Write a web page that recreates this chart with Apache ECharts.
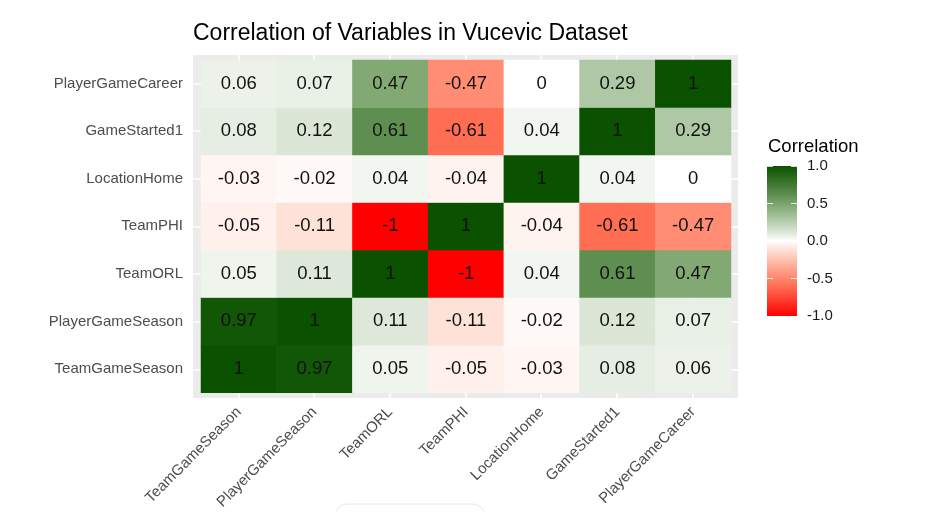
<!DOCTYPE html>
<html><head><meta charset="utf-8">
<script src="https://cdn.jsdelivr.net/npm/echarts@6/dist/echarts.min.js"></script>
<style>html,body{margin:0;padding:0;background:#fff}#c{width:932px;height:512px}</style>
</head><body><div id="c"></div>
<script>
var categories = ['TeamGameSeason','PlayerGameSeason','TeamORL','TeamPHI','LocationHome','GameStarted1','PlayerGameCareer'];
// one row per y category (bottom to top), values across x categories
var rowTeamGameSeason   = [1, 0.97, 0.05, -0.05, -0.03, 0.08, 0.06];
var rowPlayerGameSeason = [0.97, 1, 0.11, -0.11, -0.02, 0.12, 0.07];
var rowTeamORL          = [0.05, 0.11, 1, -1, 0.04, 0.61, 0.47];
var rowTeamPHI          = [-0.05, -0.11, -1, 1, -0.04, -0.61, -0.47];
var rowLocationHome     = [-0.03, -0.02, 0.04, -0.04, 1, 0.04, 0];
var rowGameStarted1     = [0.08, 0.12, 0.61, -0.61, 0.04, 1, 0.29];
var rowPlayerGameCareer = [0.06, 0.07, 0.47, -0.47, 0, 0.29, 1];
var legendTicks = [-1, -0.5, 0, 0.5, 1];

var rows = [rowTeamGameSeason,rowPlayerGameSeason,rowTeamORL,rowTeamPHI,rowLocationHome,rowGameStarted1,rowPlayerGameCareer];
var data = [];
rows.forEach(function(r, yi){ r.forEach(function(v, xi){ data.push([xi, yi, v]); }); });

// colour anchors of the diverging scale (style only)
var colorAnchors = [
  [-1,'#FF0000'],[-0.61,'#FF6D52'],[-0.47,'#FF8C73'],[-0.11,'#FEE2D8'],[-0.05,'#FFF0EC'],[0,'#FFFFFF'],
  [0.05,'#EFF4EC'],[0.11,'#DEE8DA'],[0.29,'#AEC8A5'],[0.47,'#82A874'],[0.61,'#5F8F50'],[1,'#0B5200']];
function h2r(h){return [parseInt(h.substr(1,2),16),parseInt(h.substr(3,2),16),parseInt(h.substr(5,2),16)];}
function colorAt(v){
  for(var i=0;i<colorAnchors.length-1;i++){
    var a=colorAnchors[i],b=colorAnchors[i+1];
    if(v>=a[0]&&v<=b[0]){var t=(v-a[0])/(b[0]-a[0]);var A=h2r(a[1]),B=h2r(b[1]);
      return 'rgb('+A.map(function(c,k){return Math.round(c+(B[k]-c)*t);}).join(',')+')';}
  }
  return colorAnchors[colorAnchors.length-1][1];
}
var stops=[];var N=200;
for(var i=0;i<=N;i++){stops.push(colorAt(-1+2*i/N));}
var barGradient = new echarts.graphic.LinearGradient(0,0,0,1,
  stops.slice().reverse().map(function(c,i){return {offset:i/N,color:c};}));

var FONT='Liberation Sans, Arial, sans-serif';
var idx = categories.map(function(c,i){return i;});
var tickSegs = [];
legendTicks.forEach(function(v){
  tickSegs.push([{xAxis:0,yAxis:v},{xAxis:0.2,yAxis:v}]);
  tickSegs.push([{xAxis:0.8,yAxis:v},{xAxis:1,yAxis:v}]);
});
var chart = echarts.init(document.getElementById('c'), null, {renderer:'canvas'});
chart.setOption({
  animation:false,
  backgroundColor:'#fff',
  title:{text:'Correlation of Variables in Vucevic Dataset',left:193,top:22,padding:0,
    textStyle:{fontFamily:FONT,fontSize:23,fontWeight:'normal',color:'#000'}},
  grid:[
    {left:193,right:194,top:55,bottom:114,show:true,backgroundColor:'#EBEBEB',borderWidth:0,z:0},
    {left:201,right:201,top:60,bottom:119},
    {left:767,top:166,width:30,height:150,show:true,backgroundColor:barGradient,borderWidth:0}
  ],
  xAxis:[
    {type:'value',gridIndex:0,min:-0.6,max:categories.length-0.4,show:false},
    {type:'category',gridIndex:1,data:categories,offset:5,
      axisLine:{show:false},axisTick:{alignWithLabel:true,length:4,lineStyle:{color:'#333',width:1.2}},
      axisLabel:{rotate:45,margin:12,fontFamily:FONT,fontSize:15,color:'#4D4D4D',interval:0},splitLine:{show:false}},
    {type:'value',gridIndex:2,min:0,max:1,show:false}
  ],
  yAxis:[
    {type:'value',gridIndex:0,min:-0.6,max:categories.length-0.4,show:false},
    {type:'category',gridIndex:1,data:categories,offset:8,
      axisLine:{show:false},axisTick:{alignWithLabel:true,length:4,lineStyle:{color:'#333',width:1.2}},
      axisLabel:{margin:10,fontFamily:FONT,fontSize:15,color:'#4D4D4D',interval:0},splitLine:{show:false}},
    {type:'value',gridIndex:2,min:-1,max:1,interval:0.5,position:'right',
      axisLine:{show:false},axisTick:{show:false},
      axisLabel:{margin:10,fontFamily:FONT,fontSize:15,color:'#1a1a1a',formatter:function(v){return v.toFixed(1);}},
      splitLine:{show:false}}
  ],
  visualMap:{type:'continuous',min:-1,max:1,dimension:2,seriesIndex:1,show:false,
    inRange:{color:stops}},
  graphic:[
    {type:'text',left:768,top:137,style:{text:'Correlation',font:'18.5px '+FONT,fill:'#000'}},
    {type:'rect',shape:{x:335,y:504,width:150,height:30,r:12},style:{fill:'#fff',stroke:'#e8e8e8',lineWidth:1},z:-1}
  ],
  series:[
    {type:'scatter',xAxisIndex:0,yAxisIndex:0,data:[],silent:true,z:1,
      markLine:{silent:true,symbol:['none','none'],label:{show:false},animation:false,z:1,
        lineStyle:{color:'#fff',width:1.5,type:'solid'},
        data:idx.map(function(i){return {xAxis:i};}).concat(idx.map(function(i){return {yAxis:i};}))}},
    {type:'heatmap',xAxisIndex:1,yAxisIndex:1,data:data,z:5,
      label:{show:true,fontFamily:FONT,fontSize:18.5,color:'#111',formatter:function(p){return String(p.value[2]);}},
      itemStyle:{borderWidth:0}},
    {type:'scatter',xAxisIndex:2,yAxisIndex:2,data:[],silent:true,z:5,
      markLine:{silent:true,symbol:['none','none'],label:{show:false},animation:false,
        lineStyle:{color:'rgba(255,255,255,0.8)',width:1,type:'solid'},data:tickSegs}}
  ]
});
</script></body></html>
